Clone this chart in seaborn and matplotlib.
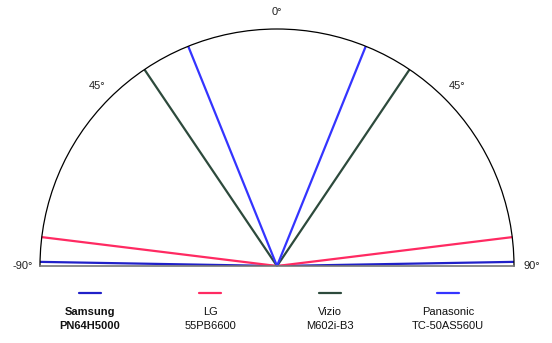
import numpy as np
import pandas as pd
import matplotlib
matplotlib.use("Agg")
import matplotlib.pyplot as plt
import seaborn as sns
from matplotlib.lines import Line2D

# Data: half viewing angle (degrees) for each TV
tvs = ["Samsung", "LG", "Vizio", "Panasonic"]
models = ["PN64H5000", "55PB6600", "M602i-B3", "TC-50AS560U"]
half_angles = [89, 83, 34, 22]
colors = ["#2020c8", "#ff2a62", "#2d4a3c", "#3434ff"]

rows = []
for tv, a in zip(tvs, half_angles):
    t = np.deg2rad(a)
    for i, (th, r) in enumerate([(-t, 1.0), (-t, 0.0), (t, 0.0), (t, 1.0)]):
        rows.append({"tv": tv, "theta": th, "r": r, "order": i})
df = pd.DataFrame(rows)

sns.set_style("white")
plt.rcParams["font.family"] = ["Liberation Sans", "DejaVu Sans"]

W, H = 552, 343
cx, cy, R = 277, 266, 237
fig = plt.figure(figsize=(W / 100, H / 100), dpi=100)
top_px = cy - R / 2 - R  # square box centered on the wedge's vertical centre
ax = fig.add_axes([(cx - R) / W, (H - (top_px + 2 * R)) / H, 2 * R / W, 2 * R / H],
                  projection="polar")
ax.set_theta_zero_location("N")
ax.set_theta_direction(-1)
ax.set_thetamin(-90)
ax.set_thetamax(90)
ax.set_rlim(0, 1)

sns.lineplot(data=df, x="theta", y="r", hue="tv", hue_order=tvs,
             palette=colors, sort=False, estimator=None, ax=ax,
             linewidth=1.6, legend=False)

ax.grid(False)
ax.set_yticks([])
ax.set_xlabel("")
ax.set_ylabel("")
ax.set_xticks(np.deg2rad([-90, -45, 0, 45, 90]))
ax.set_xticklabels(["-90°", "45°", "0°", "45°", "90°"], fontsize=8, color="#222222")
ax.tick_params(axis="x", pad=2)
ax.spines["polar"].set_color("black")
ax.spines["polar"].set_linewidth(0.9)
for s in ["start", "end"]:
    ax.spines[s].set_color("#777777")
    ax.spines[s].set_linewidth(1.2)
if "inner" in ax.spines:
    ax.spines["inner"].set_visible(False)

# Legend below: line handle above two-line label
centers = [90, 210, 330, 448]
for i, (tv, m, c) in enumerate(zip(tvs, models, colors)):
    xc = centers[i] / W
    y = 1 - 293 / H
    fig.add_artist(Line2D([xc - 11 / W, xc + 11 / W], [y, y], color=c,
                          linewidth=1.6, transform=fig.transFigure))
    w = "bold" if i == 0 else "normal"
    fig.text(xc, 1 - 312 / H, tv, ha="center", va="center", fontsize=8,
             fontweight=w, color="#111111")
    fig.text(xc, 1 - 326 / H, m, ha="center", va="center", fontsize=8,
             fontweight=w, color="#111111")

fig.savefig("out.png", dpi=100)
